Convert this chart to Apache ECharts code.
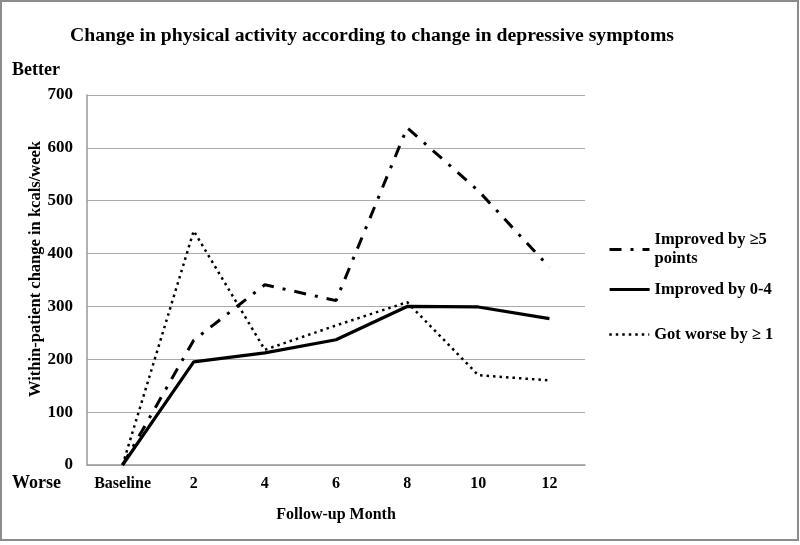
<!DOCTYPE html>
<html>
<head>
<meta charset="utf-8">
<script src="https://cdn.jsdelivr.net/npm/echarts@6/dist/echarts.min.js"></script>
<style>html,body{margin:0;padding:0;background:#fff}#c{width:800px;height:545px}</style>
</head>
<body>
<div id="c"></div>
<script>
var categories = ['Baseline', '2', '4', '6', '8', '10', '12'];
var improved5 = [0, 236, 341, 311, 638, 519, 374];
var improved04 = [0, 195, 212, 237, 300, 299, 277];
var gotWorse = [0, 443, 218, 264, 308, 170, 160];
var seriesNames = ['Improved by \u22655 points', 'Improved by 0-4', 'Got worse by \u2265 1'];
var yTicks = [0, 100, 200, 300, 400, 500, 600, 700];

var FONT = "'Liberation Serif', 'Times New Roman', serif";
var chart = echarts.init(document.getElementById('c'), null, {renderer: 'canvas'});
var legendText = {fontFamily: FONT, fontWeight: 'bold', fontSize: 16.5, color: '#000'};
var legendItem = {color: 'rgba(0,0,0,0)', borderWidth: 0, opacity: 0};
chart.setOption({
  animation: false,
  backgroundColor: '#fff',
  title: {
    text: 'Change in physical activity according to change in depressive symptoms',
    left: 65, top: 21,
    textStyle: {fontFamily: FONT, fontWeight: 'bold', fontSize: 19.7, color: '#000'}
  },
  grid: {left: 87, right: 215, top: 95, bottom: 80},
  legend: [
    {data: [seriesNames[0]], orient: 'vertical', left: 608, top: 221, padding: 0, itemWidth: 40, itemHeight: 10,
     itemStyle: legendItem, lineStyle: {width: 3},
     formatter: function(){ return 'Improved by \u22655\npoints'; },
     textStyle: Object.assign({lineHeight: 19, padding: [19, 0, 0, 0]}, legendText)},
    {data: [seriesNames[1]], orient: 'vertical', left: 608, top: 281, padding: 0, itemWidth: 40, itemHeight: 10,
     itemStyle: legendItem, lineStyle: {width: 3.2}, textStyle: legendText},
    {data: [seriesNames[2]], orient: 'vertical', left: 608, top: 326, padding: 0, itemWidth: 40, itemHeight: 10,
     itemStyle: legendItem, lineStyle: {width: 2.5}, textStyle: legendText}
  ],
  xAxis: {
    type: 'category', data: categories, boundaryGap: true,
    name: 'Follow-up Month', nameLocation: 'middle', nameGap: 42,
    nameTextStyle: {fontFamily: FONT, fontWeight: 'bold', fontSize: 16, color: '#000'},
    axisLine: {lineStyle: {color: '#999', width: 1.5}},
    axisTick: {show: false},
    axisLabel: {interval: 0, fontFamily: FONT, fontWeight: 'bold', fontSize: 16, color: '#000', margin: 11}
  },
  yAxis: {
    type: 'value', min: 0, max: 700, interval: 100,
    name: 'Within-patient change in kcals/week', nameLocation: 'middle', nameGap: 43,
    nameMoveOverlap: false,
    nameTextStyle: {fontFamily: FONT, fontWeight: 'bold', fontSize: 16.5, color: '#000', padding: [0, 0, 0, 22]},
    axisLine: {show: true, lineStyle: {color: '#999', width: 1.5}},
    axisTick: {show: false},
    splitLine: {lineStyle: {color: '#aaa', width: 1.2}},
    axisLabel: {fontFamily: FONT, fontWeight: 'bold', fontSize: 17, color: '#000', margin: 14,
      formatter: function(v){ return yTicks.indexOf(v) >= 0 ? String(v) : ''; }}
  },
  series: [
    {name: seriesNames[0], type: 'line', data: improved5, symbol: 'none', color: '#000',
     lineStyle: {color: '#000', width: 3, type: [12, 9, 3, 9]}, z: 3},
    {name: seriesNames[1], type: 'line', data: improved04, symbol: 'none', color: '#000',
     lineStyle: {color: '#000', width: 3.2, type: 'solid'}, z: 4},
    {name: seriesNames[2], type: 'line', data: gotWorse, symbol: 'none', color: '#000',
     lineStyle: {color: '#000', width: 2.5, type: [2.5, 4]}, z: 2}
  ],
  graphic: [
    {type: 'rect', shape: {x: 1, y: 1, width: 797, height: 539}, silent: true,
     style: {fill: 'none', stroke: '#8c8c8c', lineWidth: 2}, z: -1},
    {type: 'text', left: 12, top: 61, style: {text: 'Better', font: "bold 18px 'Liberation Serif', serif", fill: '#000'}},
    {type: 'text', left: 12, top: 474, style: {text: 'Worse', font: "bold 18px 'Liberation Serif', serif", fill: '#000'}}
  ]
});
</script>
</body>
</html>
